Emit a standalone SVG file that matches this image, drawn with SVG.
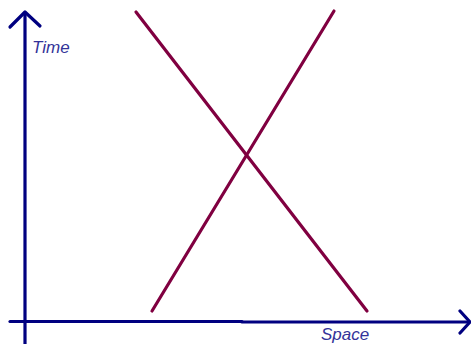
<svg xmlns="http://www.w3.org/2000/svg" width="471" height="344" viewBox="0 0 471 344">
<style>
.axis{stroke:#000080;stroke-width:3.2;fill:none;stroke-linecap:round;stroke-linejoin:round}
.world{stroke:#800040;stroke-width:3.2;fill:none;stroke-linecap:round}
.lbl{font-family:"Liberation Sans",Arial,sans-serif;font-style:italic;font-size:17px;fill:#333399}
</style>
<rect width="471" height="344" fill="#ffffff"/>
<g id="axes">
<line class="axis" x1="25" y1="13" x2="25" y2="346"/>
<polyline class="axis" points="10,27 25,12 40,26"/>
<line class="axis" x1="10" y1="321.5" x2="242" y2="321.5"/>
<line class="axis" x1="242" y1="322" x2="469" y2="322"/>
<polyline class="axis" points="460,311 470,322 460,333"/>
</g>
<g id="connectors">
<line class="world" x1="136" y1="12" x2="367" y2="311"/>
<line class="world" x1="152" y1="311" x2="334" y2="11"/>
</g>
<g id="time-label"><text class="lbl" x="32" y="53">Time</text></g>
<g id="space-label"><text class="lbl" x="321" y="340">Space</text></g>
</svg>
